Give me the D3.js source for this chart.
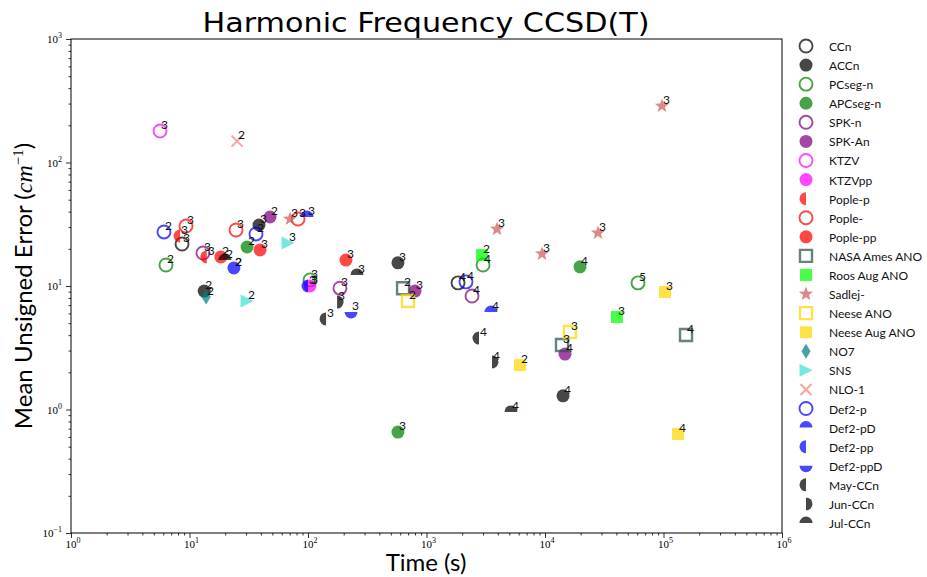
<!DOCTYPE html>
<html>
<head>
<meta charset="utf-8">
<script src="https://cdn.jsdelivr.net/npm/d3@7"></script>
<style>
  body { margin: 0; background: #fff; }
  svg text { font-family: Lato, "DejaVu Sans", sans-serif; }
</style>
</head>
<body>
<div id="chart"></div>
<script>
// Harmonic frequency errors vs. run time, one small array per basis set
// each entry: [time (s), mean unsigned error (cm^-1), zeta label]
const CCn      = [[8.65, 21.9, 3], [1845, 10.6, 4]];
const ACCn     = [[38.6, 31.2, 3], [13.3, 9.1, 2], [574, 15.4, 3], [14190, 1.29, 4]];
const PCsegN   = [[6.33, 14.8, 2], [104, 11.2, 3], [2999, 14.8, 4], [60950, 10.6, 5]];
const APCsegN  = [[30.6, 20.7, 2], [574, 0.657, 3], [19740, 14.3, 4]];
const SPKn     = [[13.0, 18.5, 3], [186, 9.6, 3], [2421, 8.3, 4]];
const SPKAn    = [[47.8, 36.2, 2], [800, 9.1, 3], [14750, 2.81, 4]];
const KTZV     = [[5.64, 180, 3]];
const KTZVpp   = [[104, 10.0, 3]];
const PopleP   = [[8.32, 25.4, 3], [14.0, 17.2, 3]];
const Pople    = [[9.34, 30.6, 3], [24.7, 28.4, 3], [82.4, 34.9, 3]];
const PoplePP  = [[18.4, 17.2, 2], [39.4, 19.6, 3], [209, 16.2, 3]];
const NASA     = [[634, 9.6, 2], [13910, 3.33, 3], [154900, 4.01, 4]];
const RoosAug  = [[2939, 17.8, 2], [40520, 5.61, 3]];
const Sadlej   = [[70.5, 34.9, 3], [3936, 28.9, 3], [9436, 18.2, 3], [28000, 26.9, 3], [97100, 287, 3]];
const NeeseANO = [[698, 7.56, 2], [16250, 4.24, 3]];
const NeeseAug = [[6150, 2.29, 2], [103000, 8.94, 3], [132500, 0.634, 4]];
const NO7      = [[13.8, 8.15, 2]];
const SNS      = [[67.8, 22.3, 3], [30.6, 7.56, 2]];
const NLO1     = [[25.2, 149, 2]];
const Def2p    = [[6.09, 27.4, 2], [36.4, 26.4, 2], [2154, 10.8, 4]];
const Def2pD   = [[98, 36.2, 3], [23.7, 14.0, 2], [3500, 6.16, 4]];
const Def2pp   = [[100, 10.0, 3]];
const Def2ppD  = [[23.7, 14.0, 2], [231, 6.16, 3]];
const MayCCn   = [[142, 5.41, 3], [2773, 3.79, 4]];
const JunCCn   = [[176, 7.41, 3], [3570, 2.43, 4]];
const JulCCn   = [[19.9, 16.2, 2], [259, 12.3, 3], [5164, 0.955, 4]];

const seriesNames = ["CCn", "ACCn", "PCseg-n", "APCseg-n", "SPK-n", "SPK-An", "KTZV", "KTZVpp",
  "Pople-p", "Pople-", "Pople-pp", "NASA Ames ANO", "Roos Aug ANO", "Sadlej-", "Neese ANO",
  "Neese Aug ANO", "NO7", "SNS", "NLO-1", "Def2-p", "Def2-pD", "Def2-pp", "Def2-ppD",
  "May-CCn", "Jun-CCn", "Jul-CCn"];
const seriesData = [CCn, ACCn, PCsegN, APCsegN, SPKn, SPKAn, KTZV, KTZVpp, PopleP, Pople, PoplePP,
  NASA, RoosAug, Sadlej, NeeseANO, NeeseAug, NO7, SNS, NLO1, Def2p, Def2pD, Def2pp, Def2ppD,
  MayCCn, JunCCn, JulCCn];

// marker styles (shape, colour, open/filled), same order as the names
const seriesStyle = [
  ["circle", "#000000", false], ["circle", "#000000", true],
  ["circle", "#008000", false], ["circle", "#008000", true],
  ["circle", "#800080", false], ["circle", "#800080", true],
  ["circle", "#ff00ff", false], ["circle", "#ff00ff", true],
  ["left", "#ff0000", true], ["circle", "#ff0000", false], ["circle", "#ff0000", true],
  ["square", "#2f4f4f", false], ["square", "#00ff00", true],
  ["star", "#cd5c5c", true], ["square", "#ffd700", false], ["square", "#ffd700", true],
  ["diamond", "#008080", true], ["triright", "#40e0d0", true], ["x", "#fa8072", true],
  ["circle", "#0000ff", false], ["top", "#0000ff", true], ["left", "#0000ff", true], ["bottom", "#0000ff", true],
  ["left", "#000000", true], ["right", "#000000", true], ["top", "#000000", true]
];

const width = 927, height = 577;
const margin = {left: 71, right: 145, top: 39, bottom: 44};
const alpha = 0.72;

d3.select("#chart").html("");
const svg = d3.select("#chart").append("svg")
  .attr("width", width)
  .attr("height", height);

const x = d3.scaleLog().domain([1, 1e6]).range([margin.left, width - margin.right]);
const y = d3.scaleLog().domain([0.1, 1000]).range([height - margin.bottom, margin.top]);

// marker outlines around (0,0)
const R = 6.5;
const arc = d3.arc().innerRadius(0).outerRadius(R);
function markerPath(shape) {
  const PI = Math.PI;
  switch (shape) {
    case "circle": return arc({startAngle: 0, endAngle: 2 * PI});
    case "top": return arc({startAngle: -PI / 2, endAngle: PI / 2});
    case "bottom": return arc({startAngle: PI / 2, endAngle: 3 * PI / 2});
    case "left": return arc({startAngle: PI, endAngle: 2 * PI});
    case "right": return arc({startAngle: 0, endAngle: PI});
    case "square": { const s = 6; return `M${-s},${-s}H${s}V${s}H${-s}Z`; }
    case "diamond": return "M0,-7.5L4.6,0L0,7.5L-4.6,0Z";
    case "triright": return "M6.5,0L-6.5,-6.5L-6.5,6.5Z";
    case "x": return "M-5.5,-5.5L5.5,5.5M-5.5,5.5L5.5,-5.5";
    case "star": {
      const pts = [];
      for (let i = 0; i < 10; i++) {
        const r = i % 2 === 0 ? 7.5 : 3.1;
        const a = -PI / 2 + i * PI / 5;
        pts.push([r * Math.cos(a), r * Math.sin(a)]);
      }
      return "M" + pts.map(p => p.join(",")).join("L") + "Z";
    }
  }
}

function drawMarker(sel, style) {
  const [shape, color, filled] = style;
  const p = sel.append("path").attr("d", markerPath(shape));
  if (shape === "x") {
    p.attr("fill", "none").attr("stroke", color).attr("stroke-width", 2).attr("stroke-opacity", alpha);
  } else if (filled) {
    p.attr("fill", color).attr("fill-opacity", alpha).attr("stroke", "none");
  } else {
    p.attr("fill", "none").attr("stroke", color).attr("stroke-opacity", alpha)
      .attr("stroke-width", shape === "square" ? 2.4 : 1.9);
  }
  return p;
}

// axes: minor ticks first, then majors
const decades = d3.range(0, 7).map(e => Math.pow(10, e));
const ydecades = d3.range(-1, 4).map(e => Math.pow(10, e));
const minorX = [], minorY = [];
decades.slice(0, -1).forEach(d => { for (let k = 2; k < 10; k++) minorX.push(d * k); });
ydecades.slice(0, -1).forEach(d => { for (let k = 2; k < 10; k++) minorY.push(d * k); });

const xAxisG = svg.append("g").attr("transform", `translate(0,${y.range()[0]})`);
xAxisG.append("g").call(d3.axisBottom(x).tickValues(minorX).tickSize(2.5).tickFormat(""));
xAxisG.append("g").call(d3.axisBottom(x).tickValues(decades).tickSize(5).tickFormat(""));
const yAxisG = svg.append("g").attr("transform", `translate(${x.range()[0]},0)`);
yAxisG.append("g").call(d3.axisLeft(y).tickValues(minorY).tickSize(2.5).tickFormat(""));
yAxisG.append("g").call(d3.axisLeft(y).tickValues(ydecades).tickSize(5).tickFormat(""));
svg.selectAll(".domain").remove();
svg.selectAll(".tick line").attr("stroke", "#000").attr("stroke-width", 0.8);

// 10^n tick labels
function powLabel(g, e) {
  g.append("tspan").text("10");
  g.append("tspan").attr("dy", -5).attr("font-size", 8).text(e);
}
decades.forEach((d, i) => {
  const t = svg.append("text").attr("x", x(d) + 2).attr("y", 548)
    .attr("text-anchor", "middle").attr("font-size", 11)
    .style("font-family", "'Liberation Serif', serif");
  powLabel(t, String(i));
});
ydecades.forEach((d, i) => {
  const t = svg.append("text").attr("x", 62).attr("y", y(d) + 4)
    .attr("text-anchor", "end").attr("font-size", 11)
    .style("font-family", "'Liberation Serif', serif");
  powLabel(t, i === 0 ? "\u22121" : String(i - 1));
});

// frame
svg.append("rect")
  .attr("x", x.range()[0]).attr("y", y.range()[1])
  .attr("width", x.range()[1] - x.range()[0])
  .attr("height", y.range()[0] - y.range()[1])
  .attr("fill", "none").attr("stroke", "#000").attr("stroke-width", 1);

// points and their zeta labels
const plot = svg.append("g");
seriesData.forEach((pts, si) => {
  pts.forEach(d => {
    const g = plot.append("g").attr("transform", `translate(${x(d[0])},${y(d[1])})`);
    drawMarker(g, seriesStyle[si]);
  });
});
seriesData.forEach(pts => {
  pts.forEach(d => {
    plot.append("text")
      .attr("x", x(d[0]) + 1).attr("y", y(d[1]) - 2)
      .attr("font-size", 12).attr("fill", "#111")
      .text(d[2]);
  });
});

// titles
svg.append("text").attr("x", 426).attr("y", 32).attr("text-anchor", "middle")
  .attr("font-size", 27).style("font-family", "'DejaVu Sans', sans-serif")
  .attr("textLength", 447).attr("lengthAdjust", "spacingAndGlyphs")
  .text("Harmonic Frequency CCSD(T)");
svg.append("text").attr("x", 426).attr("y", 571).attr("text-anchor", "middle")
  .attr("font-size", 24).text("Time (s)");
const yl = svg.append("text").attr("transform", "translate(32,286) rotate(-90)")
  .attr("text-anchor", "middle").attr("font-size", 24);
yl.append("tspan").text("Mean Unsigned Error (");
yl.append("tspan").style("font-family", "'Liberation Serif', serif").attr("font-style", "italic").text("cm");
yl.append("tspan").attr("dy", -9).attr("font-size", 15).style("font-family", "'Liberation Serif', serif").text("\u22121");
yl.append("tspan").attr("dy", 9).text(")");

// legend
const legend = svg.append("g");
const rowH = 19.08;
seriesNames.forEach((name, i) => {
  const ly = 46 + i * rowH;
  const g = legend.append("g").attr("transform", `translate(806,${ly})`);
  drawMarker(g, seriesStyle[i]);
  legend.append("text").attr("x", 829).attr("y", ly + 5)
    .attr("font-size", 12).attr("fill", "#111").text(name);
});
</script>
</body>
</html>
